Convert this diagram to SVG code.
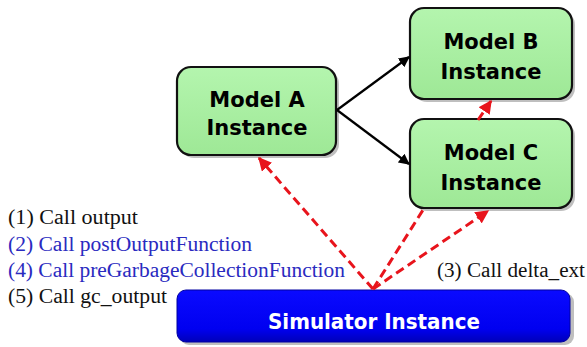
<svg xmlns="http://www.w3.org/2000/svg" width="587" height="347" viewBox="0 0 587 347">
<style>
.node rect.box{fill:url(#g);stroke:#111;stroke-width:2.2}
.node text{font-family:"DejaVu Sans",Verdana,sans-serif;font-weight:bold;font-size:21px;fill:#000;text-anchor:middle}
.shadow{fill:#000;opacity:0.25}
.blk{fill:#111}
.blu{fill:#2a2ac0}
.red{stroke:#e8141c;stroke-width:3;stroke-dasharray:9,5;fill:none}
.blkline{stroke:#000;stroke-width:2.2;fill:none}
</style>
<defs>
<linearGradient id="g" x1="0" y1="0" x2="0" y2="1">
<stop offset="0" stop-color="#b4f5ae"/>
<stop offset="1" stop-color="#9ee896"/>
</linearGradient>
<linearGradient id="bl" x1="0" y1="0" x2="0" y2="1">
<stop offset="0" stop-color="#0a0aff"/>
<stop offset="0.75" stop-color="#0000f0"/>
<stop offset="1" stop-color="#0000b8"/>
</linearGradient>
<marker id="ab" viewBox="0 0 10 10" refX="9" refY="5" markerWidth="5" markerHeight="5" orient="auto" markerUnits="strokeWidth">
<path d="M0,0 L10,5 L0,10 z" fill="#000"/>
</marker>
<marker id="ar" viewBox="0 0 10 10" refX="9" refY="5" markerWidth="4.5" markerHeight="4.5" orient="auto" markerUnits="strokeWidth">
<path d="M0,0 L10,5 L0,10 z" fill="#e8141c"/>
</marker>
</defs>
<rect width="587" height="347" fill="#fff"/>

<g id="modelA" class="node">
<rect class="shadow" x="180" y="70" width="159" height="88" rx="14"/>
<rect class="box" x="177" y="67" width="159" height="88" rx="14"/>
<text x="257" y="107">Model A</text>
<text x="257" y="135">Instance</text>
</g>
<g id="modelB" class="node">
<rect class="shadow" x="413" y="11" width="162" height="91" rx="14"/>
<rect class="box" x="410" y="8" width="162" height="91" rx="14"/>
<text x="491" y="49">Model B</text>
<text x="491" y="79">Instance</text>
</g>
<g id="modelC" class="node">
<rect class="shadow" x="413" y="122" width="162" height="89" rx="14"/>
<rect class="box" x="410" y="119" width="162" height="89" rx="14"/>
<text x="491" y="160">Model C</text>
<text x="491" y="190">Instance</text>
</g>
<g id="simulator">
<rect class="shadow" x="180" y="293" width="394" height="52" rx="9"/>
<rect x="177" y="290" width="393" height="52" rx="9" fill="url(#bl)" stroke="#0000a0" stroke-width="1"/>
<text x="374" y="329" font-family="'DejaVu Sans',Verdana,sans-serif" font-weight="bold" font-size="22" fill="#fff" text-anchor="middle" textLength="212" lengthAdjust="spacingAndGlyphs">Simulator Instance</text>
</g>

<g id="connectors">
<line class="blkline" x1="337" y1="110" x2="409" y2="57" marker-end="url(#ab)"/>
<line class="blkline" x1="337" y1="110" x2="409" y2="164" marker-end="url(#ab)"/>
<line class="red" x1="373" y1="289" x2="259" y2="158" marker-end="url(#ar)"/>
<line class="red" x1="373" y1="289" x2="423" y2="210"/>
<line class="red" x1="373" y1="289" x2="488" y2="211" marker-end="url(#ar)"/>
<line class="red" x1="478" y1="120" x2="491" y2="101" marker-end="url(#ar)"/>
</g>

<g id="labels" font-family="'Liberation Serif','Times New Roman','DejaVu Serif',serif" font-size="20">
<text class="blk" x="8" y="224" textLength="130" lengthAdjust="spacingAndGlyphs">(1) Call output</text>
<text class="blu" x="8" y="251" textLength="244" lengthAdjust="spacingAndGlyphs">(2) Call postOutputFunction</text>
<text class="blu" x="8" y="277" textLength="337" lengthAdjust="spacingAndGlyphs">(4) Call preGarbageCollectionFunction</text>
<text class="blk" x="8" y="303" textLength="159" lengthAdjust="spacingAndGlyphs">(5) Call gc_output</text>
<text class="blk" x="437" y="277" textLength="148" lengthAdjust="spacingAndGlyphs">(3) Call delta_ext</text>
</g>
</svg>
